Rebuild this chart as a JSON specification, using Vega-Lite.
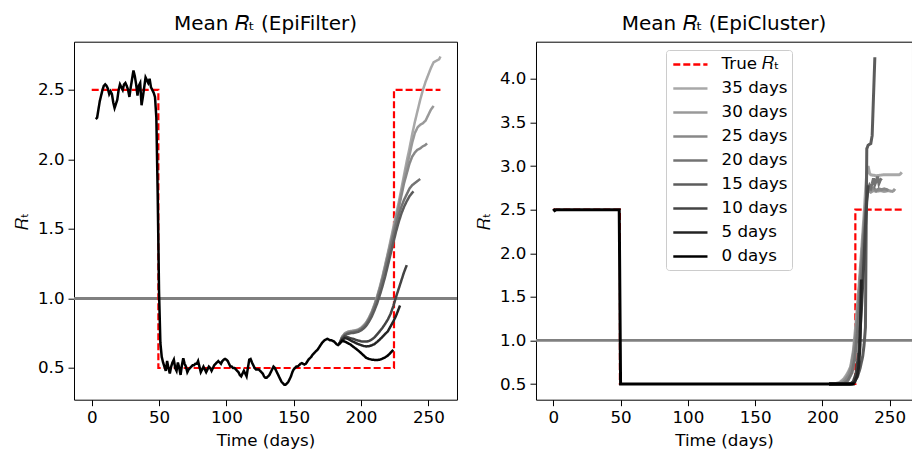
{
  "$schema": "https://vega.github.io/schema/vega-lite/v6.json",
  "padding": {"left": 13, "top": 12.7, "right": 0, "bottom": 0},
  "spacing": 16,
  "config": {
    "font": "DejaVu Sans",
    "view": {"stroke": "#000000", "strokeWidth": 1},
    "axis": {"domain": false, "grid": false, "tickColor": "#000000", "tickSize": 6, "tickWidth": 1, "labelColor": "#000000", "labelFontSize": 16.7, "labelFont": "DejaVu Sans", "titleFont": "DejaVu Sans", "titleFontSize": 16.7, "titleFontWeight": "normal", "titleColor": "#000000", "labelPadding": 4, "titlePadding": 6},
    "title": {"fontSize": 20, "fontWeight": "normal", "font": "DejaVu Sans", "color": "#000000", "offset": 8}
  },
  "resolve": {"scale": {"x": "independent", "y": "independent", "color": "independent", "strokeDash": "independent"}},
  "datasets": {
    "one": [{"v": 1}],
    "truth": [
      {"t": 0, "r": 2.5, "s": "True 𝑅ₜ"},
      {"t": 49.5, "r": 0.5, "s": "True 𝑅ₜ"},
      {"t": 224.5, "r": 2.5, "s": "True 𝑅ₜ"},
      {"t": 259, "r": 2.5, "s": "True 𝑅ₜ"}
    ],
    "ef": [
      {"t":184,"r":0.675,"s":"35 days"},{"t":186,"r":0.725,"s":"35 days"},{"t":188,"r":0.75,"s":"35 days"},{"t":190,"r":0.76,"s":"35 days"},{"t":192,"r":0.765,"s":"35 days"},{"t":194,"r":0.768,"s":"35 days"},{"t":196,"r":0.772,"s":"35 days"},{"t":198,"r":0.778,"s":"35 days"},{"t":200,"r":0.79,"s":"35 days"},{"t":202,"r":0.807,"s":"35 days"},{"t":204,"r":0.83,"s":"35 days"},{"t":206,"r":0.865,"s":"35 days"},{"t":208,"r":0.905,"s":"35 days"},{"t":210,"r":0.957,"s":"35 days"},{"t":212,"r":1.017,"s":"35 days"},{"t":214,"r":1.085,"s":"35 days"},{"t":216,"r":1.16,"s":"35 days"},{"t":218,"r":1.245,"s":"35 days"},{"t":220,"r":1.33,"s":"35 days"},{"t":222,"r":1.42,"s":"35 days"},{"t":224,"r":1.51,"s":"35 days"},{"t":226,"r":1.6,"s":"35 days"},{"t":228,"r":1.69,"s":"35 days"},{"t":230,"r":1.79,"s":"35 days"},{"t":232,"r":1.89,"s":"35 days"},{"t":234,"r":1.99,"s":"35 days"},{"t":236,"r":2.08,"s":"35 days"},{"t":238,"r":2.18,"s":"35 days"},{"t":240,"r":2.27,"s":"35 days"},{"t":242,"r":2.35,"s":"35 days"},{"t":244,"r":2.43,"s":"35 days"},{"t":246,"r":2.5,"s":"35 days"},{"t":248,"r":2.56,"s":"35 days"},{"t":250,"r":2.61,"s":"35 days"},{"t":252,"r":2.66,"s":"35 days"},{"t":254,"r":2.7,"s":"35 days"},{"t":256,"r":2.71,"s":"35 days"},{"t":258,"r":2.72,"s":"35 days"},{"t":259,"r":2.74,"s":"35 days"},
      {"t":184,"r":0.675,"s":"30 days"},{"t":186,"r":0.725,"s":"30 days"},{"t":188,"r":0.748,"s":"30 days"},{"t":190,"r":0.758,"s":"30 days"},{"t":192,"r":0.763,"s":"30 days"},{"t":194,"r":0.766,"s":"30 days"},{"t":196,"r":0.77,"s":"30 days"},{"t":198,"r":0.776,"s":"30 days"},{"t":200,"r":0.786,"s":"30 days"},{"t":202,"r":0.803,"s":"30 days"},{"t":204,"r":0.826,"s":"30 days"},{"t":206,"r":0.86,"s":"30 days"},{"t":208,"r":0.9,"s":"30 days"},{"t":210,"r":0.952,"s":"30 days"},{"t":212,"r":1.01,"s":"30 days"},{"t":214,"r":1.077,"s":"30 days"},{"t":216,"r":1.153,"s":"30 days"},{"t":218,"r":1.235,"s":"30 days"},{"t":220,"r":1.32,"s":"30 days"},{"t":222,"r":1.405,"s":"30 days"},{"t":224,"r":1.49,"s":"30 days"},{"t":226,"r":1.58,"s":"30 days"},{"t":228,"r":1.67,"s":"30 days"},{"t":230,"r":1.76,"s":"30 days"},{"t":232,"r":1.86,"s":"30 days"},{"t":234,"r":1.95,"s":"30 days"},{"t":236,"r":2.03,"s":"30 days"},{"t":238,"r":2.12,"s":"30 days"},{"t":240,"r":2.19,"s":"30 days"},{"t":242,"r":2.23,"s":"30 days"},{"t":244,"r":2.25,"s":"30 days"},{"t":246,"r":2.26,"s":"30 days"},{"t":248,"r":2.28,"s":"30 days"},{"t":250,"r":2.32,"s":"30 days"},{"t":252,"r":2.36,"s":"30 days"},{"t":254,"r":2.385,"s":"30 days"},
      {"t":184,"r":0.675,"s":"25 days"},{"t":186,"r":0.72,"s":"25 days"},{"t":188,"r":0.745,"s":"25 days"},{"t":190,"r":0.755,"s":"25 days"},{"t":192,"r":0.76,"s":"25 days"},{"t":194,"r":0.763,"s":"25 days"},{"t":196,"r":0.767,"s":"25 days"},{"t":198,"r":0.773,"s":"25 days"},{"t":200,"r":0.783,"s":"25 days"},{"t":202,"r":0.8,"s":"25 days"},{"t":204,"r":0.823,"s":"25 days"},{"t":206,"r":0.856,"s":"25 days"},{"t":208,"r":0.897,"s":"25 days"},{"t":210,"r":0.948,"s":"25 days"},{"t":212,"r":1.005,"s":"25 days"},{"t":214,"r":1.07,"s":"25 days"},{"t":216,"r":1.145,"s":"25 days"},{"t":218,"r":1.225,"s":"25 days"},{"t":220,"r":1.31,"s":"25 days"},{"t":222,"r":1.39,"s":"25 days"},{"t":224,"r":1.475,"s":"25 days"},{"t":226,"r":1.56,"s":"25 days"},{"t":228,"r":1.65,"s":"25 days"},{"t":230,"r":1.74,"s":"25 days"},{"t":232,"r":1.83,"s":"25 days"},{"t":234,"r":1.9,"s":"25 days"},{"t":236,"r":1.97,"s":"25 days"},{"t":238,"r":2.02,"s":"25 days"},{"t":240,"r":2.05,"s":"25 days"},{"t":242,"r":2.07,"s":"25 days"},{"t":244,"r":2.08,"s":"25 days"},{"t":246,"r":2.095,"s":"25 days"},{"t":248,"r":2.105,"s":"25 days"},{"t":249,"r":2.115,"s":"25 days"},
      {"t":184,"r":0.675,"s":"20 days"},{"t":186,"r":0.72,"s":"20 days"},{"t":188,"r":0.74,"s":"20 days"},{"t":190,"r":0.75,"s":"20 days"},{"t":192,"r":0.755,"s":"20 days"},{"t":194,"r":0.758,"s":"20 days"},{"t":196,"r":0.762,"s":"20 days"},{"t":198,"r":0.768,"s":"20 days"},{"t":200,"r":0.778,"s":"20 days"},{"t":202,"r":0.795,"s":"20 days"},{"t":204,"r":0.818,"s":"20 days"},{"t":206,"r":0.85,"s":"20 days"},{"t":208,"r":0.89,"s":"20 days"},{"t":210,"r":0.94,"s":"20 days"},{"t":212,"r":0.995,"s":"20 days"},{"t":214,"r":1.06,"s":"20 days"},{"t":216,"r":1.13,"s":"20 days"},{"t":218,"r":1.21,"s":"20 days"},{"t":220,"r":1.29,"s":"20 days"},{"t":222,"r":1.37,"s":"20 days"},{"t":224,"r":1.45,"s":"20 days"},{"t":226,"r":1.53,"s":"20 days"},{"t":228,"r":1.6,"s":"20 days"},{"t":230,"r":1.66,"s":"20 days"},{"t":232,"r":1.71,"s":"20 days"},{"t":234,"r":1.75,"s":"20 days"},{"t":236,"r":1.79,"s":"20 days"},{"t":238,"r":1.815,"s":"20 days"},{"t":240,"r":1.83,"s":"20 days"},{"t":242,"r":1.845,"s":"20 days"},{"t":244,"r":1.86,"s":"20 days"},
      {"t":184,"r":0.675,"s":"15 days"},{"t":186,"r":0.715,"s":"15 days"},{"t":188,"r":0.735,"s":"15 days"},{"t":190,"r":0.745,"s":"15 days"},{"t":192,"r":0.75,"s":"15 days"},{"t":194,"r":0.752,"s":"15 days"},{"t":196,"r":0.755,"s":"15 days"},{"t":198,"r":0.76,"s":"15 days"},{"t":200,"r":0.77,"s":"15 days"},{"t":202,"r":0.785,"s":"15 days"},{"t":204,"r":0.805,"s":"15 days"},{"t":206,"r":0.835,"s":"15 days"},{"t":208,"r":0.87,"s":"15 days"},{"t":210,"r":0.915,"s":"15 days"},{"t":212,"r":0.965,"s":"15 days"},{"t":214,"r":1.025,"s":"15 days"},{"t":216,"r":1.09,"s":"15 days"},{"t":218,"r":1.16,"s":"15 days"},{"t":220,"r":1.24,"s":"15 days"},{"t":222,"r":1.32,"s":"15 days"},{"t":224,"r":1.4,"s":"15 days"},{"t":226,"r":1.48,"s":"15 days"},{"t":228,"r":1.55,"s":"15 days"},{"t":230,"r":1.61,"s":"15 days"},{"t":232,"r":1.66,"s":"15 days"},{"t":234,"r":1.7,"s":"15 days"},{"t":236,"r":1.735,"s":"15 days"},{"t":238,"r":1.76,"s":"15 days"},{"t":239,"r":1.77,"s":"15 days"},
      {"t":184,"r":0.675,"s":"10 days"},{"t":186,"r":0.71,"s":"10 days"},{"t":188,"r":0.727,"s":"10 days"},{"t":190,"r":0.722,"s":"10 days"},{"t":192,"r":0.715,"s":"10 days"},{"t":194,"r":0.71,"s":"10 days"},{"t":196,"r":0.703,"s":"10 days"},{"t":198,"r":0.697,"s":"10 days"},{"t":200,"r":0.692,"s":"10 days"},{"t":202,"r":0.69,"s":"10 days"},{"t":204,"r":0.69,"s":"10 days"},{"t":206,"r":0.695,"s":"10 days"},{"t":208,"r":0.705,"s":"10 days"},{"t":210,"r":0.72,"s":"10 days"},{"t":212,"r":0.742,"s":"10 days"},{"t":214,"r":0.765,"s":"10 days"},{"t":216,"r":0.79,"s":"10 days"},{"t":218,"r":0.818,"s":"10 days"},{"t":220,"r":0.85,"s":"10 days"},{"t":222,"r":0.89,"s":"10 days"},{"t":224,"r":0.945,"s":"10 days"},{"t":226,"r":1.01,"s":"10 days"},{"t":228,"r":1.07,"s":"10 days"},{"t":230,"r":1.13,"s":"10 days"},{"t":232,"r":1.19,"s":"10 days"},{"t":234,"r":1.24,"s":"10 days"},
      {"t":184,"r":0.675,"s":"5 days"},{"t":186,"r":0.7,"s":"5 days"},{"t":188,"r":0.715,"s":"5 days"},{"t":190,"r":0.71,"s":"5 days"},{"t":192,"r":0.7,"s":"5 days"},{"t":194,"r":0.69,"s":"5 days"},{"t":196,"r":0.68,"s":"5 days"},{"t":198,"r":0.672,"s":"5 days"},{"t":200,"r":0.665,"s":"5 days"},{"t":202,"r":0.658,"s":"5 days"},{"t":204,"r":0.655,"s":"5 days"},{"t":206,"r":0.657,"s":"5 days"},{"t":208,"r":0.663,"s":"5 days"},{"t":210,"r":0.672,"s":"5 days"},{"t":212,"r":0.688,"s":"5 days"},{"t":214,"r":0.705,"s":"5 days"},{"t":216,"r":0.725,"s":"5 days"},{"t":218,"r":0.745,"s":"5 days"},{"t":220,"r":0.765,"s":"5 days"},{"t":222,"r":0.8,"s":"5 days"},{"t":224,"r":0.835,"s":"5 days"},{"t":226,"r":0.875,"s":"5 days"},{"t":228,"r":0.925,"s":"5 days"},{"t":229,"r":0.95,"s":"5 days"},
      {"t":3,"r":2.29,"s":"0 days"},{"t":4,"r":2.3,"s":"0 days"},{"t":5,"r":2.36,"s":"0 days"},{"t":6,"r":2.42,"s":"0 days"},{"t":7,"r":2.46,"s":"0 days"},{"t":8,"r":2.5,"s":"0 days"},{"t":9,"r":2.53,"s":"0 days"},{"t":10,"r":2.54,"s":"0 days"},{"t":11,"r":2.53,"s":"0 days"},{"t":12,"r":2.51,"s":"0 days"},{"t":13,"r":2.47,"s":"0 days"},{"t":14,"r":2.49,"s":"0 days"},{"t":15,"r":2.47,"s":"0 days"},{"t":16,"r":2.41,"s":"0 days"},{"t":17,"r":2.37,"s":"0 days"},{"t":18,"r":2.4,"s":"0 days"},{"t":19,"r":2.43,"s":"0 days"},{"t":20,"r":2.5,"s":"0 days"},{"t":21,"r":2.54,"s":"0 days"},{"t":22,"r":2.52,"s":"0 days"},{"t":23,"r":2.5,"s":"0 days"},{"t":24,"r":2.54,"s":"0 days"},{"t":25,"r":2.55,"s":"0 days"},{"t":26,"r":2.53,"s":"0 days"},{"t":27,"r":2.5,"s":"0 days"},{"t":28,"r":2.45,"s":"0 days"},{"t":29,"r":2.52,"s":"0 days"},{"t":30,"r":2.58,"s":"0 days"},{"t":31,"r":2.64,"s":"0 days"},{"t":32,"r":2.6,"s":"0 days"},{"t":33,"r":2.54,"s":"0 days"},{"t":34,"r":2.46,"s":"0 days"},{"t":35,"r":2.53,"s":"0 days"},{"t":36,"r":2.55,"s":"0 days"},{"t":37,"r":2.39,"s":"0 days"},{"t":38,"r":2.45,"s":"0 days"},{"t":39,"r":2.52,"s":"0 days"},{"t":40,"r":2.59,"s":"0 days"},{"t":41,"r":2.57,"s":"0 days"},{"t":42,"r":2.55,"s":"0 days"},{"t":43,"r":2.58,"s":"0 days"},{"t":44,"r":2.52,"s":"0 days"},{"t":45,"r":2.5,"s":"0 days"},{"t":46,"r":2.48,"s":"0 days"},{"t":47,"r":2.45,"s":"0 days"},{"t":48,"r":2.3,"s":"0 days"},{"t":49,"r":1.75,"s":"0 days"},{"t":50,"r":1.05,"s":"0 days"},{"t":51,"r":0.68,"s":"0 days"},{"t":52,"r":0.58,"s":"0 days"},{"t":53,"r":0.54,"s":"0 days"},{"t":54,"r":0.51,"s":"0 days"},{"t":55,"r":0.48,"s":"0 days"},{"t":56,"r":0.55,"s":"0 days"},{"t":57,"r":0.5,"s":"0 days"},{"t":58,"r":0.46,"s":"0 days"},{"t":59,"r":0.51,"s":"0 days"},{"t":60,"r":0.54,"s":"0 days"},{"t":61,"r":0.56,"s":"0 days"},{"t":62,"r":0.5,"s":"0 days"},{"t":63,"r":0.48,"s":"0 days"},{"t":64,"r":0.54,"s":"0 days"},{"t":65,"r":0.5,"s":"0 days"},{"t":66,"r":0.45,"s":"0 days"},{"t":67,"r":0.52,"s":"0 days"},{"t":68,"r":0.57,"s":"0 days"},{"t":69,"r":0.53,"s":"0 days"},{"t":70,"r":0.51,"s":"0 days"},{"t":71,"r":0.47,"s":"0 days"},{"t":72,"r":0.49,"s":"0 days"},{"t":73,"r":0.5,"s":"0 days"},{"t":74,"r":0.51,"s":"0 days"},{"t":75,"r":0.52,"s":"0 days"},{"t":76,"r":0.52,"s":"0 days"},{"t":77,"r":0.53,"s":"0 days"},{"t":78,"r":0.53,"s":"0 days"},{"t":79,"r":0.55,"s":"0 days"},{"t":80,"r":0.51,"s":"0 days"},{"t":81,"r":0.47,"s":"0 days"},{"t":82,"r":0.49,"s":"0 days"},{"t":83,"r":0.51,"s":"0 days"},{"t":84,"r":0.49,"s":"0 days"},{"t":85,"r":0.47,"s":"0 days"},{"t":86,"r":0.49,"s":"0 days"},{"t":87,"r":0.51,"s":"0 days"},{"t":88,"r":0.5,"s":"0 days"},{"t":89,"r":0.48,"s":"0 days"},{"t":90,"r":0.5,"s":"0 days"},{"t":91,"r":0.52,"s":"0 days"},{"t":92,"r":0.53,"s":"0 days"},{"t":93,"r":0.54,"s":"0 days"},{"t":94,"r":0.55,"s":"0 days"},{"t":95,"r":0.54,"s":"0 days"},{"t":96,"r":0.53,"s":"0 days"},{"t":97,"r":0.55,"s":"0 days"},{"t":98,"r":0.56,"s":"0 days"},{"t":99,"r":0.565,"s":"0 days"},{"t":100,"r":0.56,"s":"0 days"},{"t":101,"r":0.55,"s":"0 days"},{"t":102,"r":0.53,"s":"0 days"},{"t":103,"r":0.51,"s":"0 days"},{"t":104,"r":0.51,"s":"0 days"},{"t":105,"r":0.5,"s":"0 days"},{"t":106,"r":0.5,"s":"0 days"},{"t":107,"r":0.49,"s":"0 days"},{"t":108,"r":0.48,"s":"0 days"},{"t":109,"r":0.47,"s":"0 days"},{"t":110,"r":0.45,"s":"0 days"},{"t":111,"r":0.44,"s":"0 days"},{"t":112,"r":0.46,"s":"0 days"},{"t":113,"r":0.48,"s":"0 days"},{"t":114,"r":0.46,"s":"0 days"},{"t":115,"r":0.44,"s":"0 days"},{"t":116,"r":0.5,"s":"0 days"},{"t":117,"r":0.56,"s":"0 days"},{"t":118,"r":0.565,"s":"0 days"},{"t":119,"r":0.54,"s":"0 days"},{"t":120,"r":0.52,"s":"0 days"},{"t":121,"r":0.5,"s":"0 days"},{"t":122,"r":0.49,"s":"0 days"},{"t":123,"r":0.49,"s":"0 days"},{"t":124,"r":0.49,"s":"0 days"},{"t":125,"r":0.48,"s":"0 days"},{"t":126,"r":0.47,"s":"0 days"},{"t":127,"r":0.46,"s":"0 days"},{"t":128,"r":0.44,"s":"0 days"},{"t":129,"r":0.43,"s":"0 days"},{"t":130,"r":0.43,"s":"0 days"},{"t":131,"r":0.44,"s":"0 days"},{"t":132,"r":0.45,"s":"0 days"},{"t":133,"r":0.47,"s":"0 days"},{"t":134,"r":0.49,"s":"0 days"},{"t":135,"r":0.51,"s":"0 days"},{"t":136,"r":0.5,"s":"0 days"},{"t":137,"r":0.48,"s":"0 days"},{"t":138,"r":0.46,"s":"0 days"},{"t":139,"r":0.44,"s":"0 days"},{"t":140,"r":0.42,"s":"0 days"},{"t":141,"r":0.4,"s":"0 days"},{"t":142,"r":0.39,"s":"0 days"},{"t":143,"r":0.38,"s":"0 days"},{"t":144,"r":0.38,"s":"0 days"},{"t":145,"r":0.39,"s":"0 days"},{"t":146,"r":0.4,"s":"0 days"},{"t":147,"r":0.42,"s":"0 days"},{"t":148,"r":0.44,"s":"0 days"},{"t":149,"r":0.47,"s":"0 days"},{"t":150,"r":0.49,"s":"0 days"},{"t":151,"r":0.5,"s":"0 days"},{"t":152,"r":0.51,"s":"0 days"},{"t":153,"r":0.51,"s":"0 days"},{"t":154,"r":0.52,"s":"0 days"},{"t":155,"r":0.53,"s":"0 days"},{"t":156,"r":0.535,"s":"0 days"},{"t":157,"r":0.53,"s":"0 days"},{"t":158,"r":0.525,"s":"0 days"},{"t":159,"r":0.53,"s":"0 days"},{"t":160,"r":0.545,"s":"0 days"},{"t":161,"r":0.56,"s":"0 days"},{"t":162,"r":0.57,"s":"0 days"},{"t":163,"r":0.58,"s":"0 days"},{"t":164,"r":0.595,"s":"0 days"},{"t":165,"r":0.605,"s":"0 days"},{"t":166,"r":0.615,"s":"0 days"},{"t":167,"r":0.625,"s":"0 days"},{"t":168,"r":0.635,"s":"0 days"},{"t":169,"r":0.65,"s":"0 days"},{"t":170,"r":0.665,"s":"0 days"},{"t":171,"r":0.68,"s":"0 days"},{"t":172,"r":0.69,"s":"0 days"},{"t":173,"r":0.7,"s":"0 days"},{"t":174,"r":0.705,"s":"0 days"},{"t":175,"r":0.71,"s":"0 days"},{"t":176,"r":0.705,"s":"0 days"},{"t":177,"r":0.7,"s":"0 days"},{"t":178,"r":0.7,"s":"0 days"},{"t":179,"r":0.695,"s":"0 days"},{"t":180,"r":0.69,"s":"0 days"},{"t":181,"r":0.68,"s":"0 days"},{"t":182,"r":0.67,"s":"0 days"},{"t":183,"r":0.665,"s":"0 days"},{"t":184,"r":0.675,"s":"0 days"},{"t":186,"r":0.695,"s":"0 days"},{"t":188,"r":0.69,"s":"0 days"},{"t":190,"r":0.68,"s":"0 days"},{"t":192,"r":0.67,"s":"0 days"},{"t":194,"r":0.655,"s":"0 days"},{"t":196,"r":0.64,"s":"0 days"},{"t":198,"r":0.625,"s":"0 days"},{"t":200,"r":0.608,"s":"0 days"},{"t":202,"r":0.59,"s":"0 days"},{"t":204,"r":0.572,"s":"0 days"},{"t":206,"r":0.565,"s":"0 days"},{"t":208,"r":0.56,"s":"0 days"},{"t":210,"r":0.558,"s":"0 days"},{"t":212,"r":0.557,"s":"0 days"},{"t":214,"r":0.56,"s":"0 days"},{"t":216,"r":0.567,"s":"0 days"},{"t":218,"r":0.577,"s":"0 days"},{"t":220,"r":0.59,"s":"0 days"},{"t":222,"r":0.61,"s":"0 days"},{"t":224,"r":0.63,"s":"0 days"}
    ],
    "ec": [
      {"t":205,"r":0.5,"s":"35 days"},{"t":210,"r":0.505,"s":"35 days"},{"t":213,"r":0.52,"s":"35 days"},{"t":216,"r":0.56,"s":"35 days"},{"t":219,"r":0.63,"s":"35 days"},{"t":221,"r":0.7,"s":"35 days"},{"t":223,"r":0.88,"s":"35 days"},{"t":225,"r":1.2,"s":"35 days"},{"t":227,"r":1.58,"s":"35 days"},{"t":229,"r":2.0,"s":"35 days"},{"t":231,"r":2.45,"s":"35 days"},{"t":232,"r":2.7,"s":"35 days"},{"t":233,"r":2.92,"s":"35 days"},{"t":234,"r":3.0,"s":"35 days"},{"t":235,"r":2.92,"s":"35 days"},{"t":236,"r":2.9,"s":"35 days"},{"t":240,"r":2.89,"s":"35 days"},{"t":245,"r":2.9,"s":"35 days"},{"t":250,"r":2.9,"s":"35 days"},{"t":255,"r":2.9,"s":"35 days"},{"t":257,"r":2.9,"s":"35 days"},{"t":258,"r":2.91,"s":"35 days"},{"t":259,"r":2.93,"s":"35 days"},
      {"t":205,"r":0.5,"s":"30 days"},{"t":212,"r":0.505,"s":"30 days"},{"t":215,"r":0.53,"s":"30 days"},{"t":218,"r":0.58,"s":"30 days"},{"t":221,"r":0.68,"s":"30 days"},{"t":223,"r":0.84,"s":"30 days"},{"t":225,"r":1.1,"s":"30 days"},{"t":227,"r":1.48,"s":"30 days"},{"t":229,"r":1.9,"s":"30 days"},{"t":231,"r":2.33,"s":"30 days"},{"t":232,"r":2.55,"s":"30 days"},{"t":233,"r":2.68,"s":"30 days"},{"t":234,"r":2.72,"s":"30 days"},{"t":236,"r":2.7,"s":"30 days"},{"t":238,"r":2.72,"s":"30 days"},{"t":240,"r":2.71,"s":"30 days"},{"t":243,"r":2.72,"s":"30 days"},{"t":246,"r":2.71,"s":"30 days"},{"t":249,"r":2.72,"s":"30 days"},{"t":252,"r":2.71,"s":"30 days"},{"t":253,"r":2.72,"s":"30 days"},{"t":254,"r":2.74,"s":"30 days"},
      {"t":205,"r":0.5,"s":"25 days"},{"t":214,"r":0.505,"s":"25 days"},{"t":217,"r":0.54,"s":"25 days"},{"t":220,"r":0.61,"s":"25 days"},{"t":222,"r":0.72,"s":"25 days"},{"t":224,"r":0.93,"s":"25 days"},{"t":226,"r":1.28,"s":"25 days"},{"t":228,"r":1.7,"s":"25 days"},{"t":230,"r":2.12,"s":"25 days"},{"t":232,"r":2.52,"s":"25 days"},{"t":233,"r":2.68,"s":"25 days"},{"t":234,"r":2.74,"s":"25 days"},{"t":236,"r":2.73,"s":"25 days"},{"t":238,"r":2.75,"s":"25 days"},{"t":240,"r":2.72,"s":"25 days"},{"t":242,"r":2.74,"s":"25 days"},{"t":244,"r":2.73,"s":"25 days"},{"t":246,"r":2.74,"s":"25 days"},{"t":248,"r":2.73,"s":"25 days"},{"t":249,"r":2.72,"s":"25 days"},
      {"t":205,"r":0.5,"s":"20 days"},{"t":216,"r":0.505,"s":"20 days"},{"t":219,"r":0.54,"s":"20 days"},{"t":222,"r":0.63,"s":"20 days"},{"t":224,"r":0.78,"s":"20 days"},{"t":226,"r":1.08,"s":"20 days"},{"t":228,"r":1.52,"s":"20 days"},{"t":230,"r":1.98,"s":"20 days"},{"t":232,"r":2.42,"s":"20 days"},{"t":233,"r":2.63,"s":"20 days"},{"t":234,"r":2.74,"s":"20 days"},{"t":235,"r":2.78,"s":"20 days"},{"t":236,"r":2.75,"s":"20 days"},{"t":237,"r":2.8,"s":"20 days"},{"t":238,"r":2.86,"s":"20 days"},{"t":239,"r":2.79,"s":"20 days"},{"t":240,"r":2.83,"s":"20 days"},{"t":241,"r":2.88,"s":"20 days"},{"t":242,"r":2.8,"s":"20 days"},{"t":243,"r":2.84,"s":"20 days"},{"t":244,"r":2.86,"s":"20 days"},
      {"t":205,"r":0.5,"s":"15 days"},{"t":220,"r":0.5,"s":"15 days"},{"t":223,"r":0.52,"s":"15 days"},{"t":226,"r":0.58,"s":"15 days"},{"t":228,"r":0.68,"s":"15 days"},{"t":230,"r":0.82,"s":"15 days"},{"t":231,"r":0.95,"s":"15 days"},{"t":232,"r":1.15,"s":"15 days"},{"t":233,"r":3.2,"s":"15 days"},{"t":234,"r":3.24,"s":"15 days"},{"t":235,"r":3.25,"s":"15 days"},{"t":236,"r":3.26,"s":"15 days"},{"t":237,"r":3.35,"s":"15 days"},{"t":238,"r":3.8,"s":"15 days"},{"t":239,"r":4.25,"s":"15 days"},
      {"t":205,"r":0.5,"s":"10 days"},{"t":221,"r":0.5,"s":"10 days"},{"t":223,"r":0.53,"s":"10 days"},{"t":225,"r":0.62,"s":"10 days"},{"t":227,"r":0.85,"s":"10 days"},{"t":229,"r":1.35,"s":"10 days"},{"t":231,"r":1.95,"s":"10 days"},{"t":232,"r":2.3,"s":"10 days"},{"t":233,"r":2.6,"s":"10 days"},{"t":234,"r":2.78,"s":"10 days"},
      {"t":205,"r":0.5,"s":"5 days"},{"t":222,"r":0.5,"s":"5 days"},{"t":224,"r":0.52,"s":"5 days"},{"t":226,"r":0.6,"s":"5 days"},{"t":227,"r":0.7,"s":"5 days"},{"t":228,"r":0.95,"s":"5 days"},{"t":229,"r":1.7,"s":"5 days"},
      {"t":0,"r":2.51,"s":"0 days"},{"t":1,"r":2.49,"s":"0 days"},{"t":2,"r":2.5,"s":"0 days"},{"t":10,"r":2.5,"s":"0 days"},{"t":20,"r":2.5,"s":"0 days"},{"t":30,"r":2.5,"s":"0 days"},{"t":40,"r":2.5,"s":"0 days"},{"t":49,"r":2.5,"s":"0 days"},{"t":50,"r":0.5,"s":"0 days"},{"t":60,"r":0.5,"s":"0 days"},{"t":80,"r":0.5,"s":"0 days"},{"t":100,"r":0.5,"s":"0 days"},{"t":120,"r":0.5,"s":"0 days"},{"t":140,"r":0.5,"s":"0 days"},{"t":160,"r":0.5,"s":"0 days"},{"t":180,"r":0.5,"s":"0 days"},{"t":200,"r":0.5,"s":"0 days"},{"t":210,"r":0.5,"s":"0 days"},{"t":220,"r":0.5,"s":"0 days"},{"t":224,"r":0.5,"s":"0 days"}
    ]
  },
  "hconcat": [
    {
      "width": 383,
      "height": 358,
      "title": "Mean 𝑅ₜ (EpiFilter)",
      "layer": [
        {
          "data": {"name": "one"},
          "mark": {"type": "rule", "color": "#808080", "strokeWidth": 2.8},
          "encoding": {"y": {"field": "v", "type": "quantitative"}}
        },
        {
          "data": {"name": "truth"},
          "mark": {"type": "line", "interpolate": "step-after", "strokeWidth": 2.2},
          "encoding": {
            "x": {"field": "t", "type": "quantitative", "scale": {"domain": [-13.15, 271.3], "nice": false, "zero": false}, "axis": {"values": [0, 50, 100, 150, 200, 250], "title": "Time (days)"}},
            "y": {"field": "r", "type": "quantitative", "scale": {"domain": [0.272, 2.847], "nice": false, "zero": false}, "axis": {"values": [0.5, 1, 1.5, 2, 2.5], "format": ".1f", "title": "𝑅ₜ"}},
            "color": {"field": "s", "type": "nominal", "legend": null, "scale": {"domain": ["True 𝑅ₜ", "35 days", "30 days", "25 days", "20 days", "15 days", "10 days", "5 days", "0 days"], "range": ["#ff0000", "#a8a8a8", "#999999", "#888888", "#737373", "#5c5c5c", "#444444", "#242424", "#000000"]}},
            "strokeDash": {"field": "s", "type": "nominal", "legend": null, "scale": {"domain": ["True 𝑅ₜ", "35 days", "30 days", "25 days", "20 days", "15 days", "10 days", "5 days", "0 days"], "range": [[7, 3], [1, 0], [1, 0], [1, 0], [1, 0], [1, 0], [1, 0], [1, 0], [1, 0]]}}
          }
        },
        {
          "data": {"name": "ef"},
          "mark": {"type": "line", "strokeWidth": 2.5},
          "encoding": {
            "x": {"field": "t", "type": "quantitative"},
            "y": {"field": "r", "type": "quantitative"},
            "color": {"field": "s", "type": "nominal", "legend": null},
            "strokeDash": {"field": "s", "type": "nominal", "legend": null}
          }
        }
      ]
    },
    {
      "width": 376,
      "height": 358,
      "title": "Mean 𝑅ₜ (EpiCluster)",
      "layer": [
        {
          "data": {"name": "one"},
          "mark": {"type": "rule", "color": "#808080", "strokeWidth": 2.8},
          "encoding": {"y": {"field": "v", "type": "quantitative"}}
        },
        {
          "data": {"name": "truth"},
          "mark": {"type": "line", "interpolate": "step-after", "strokeWidth": 2.2},
          "encoding": {
            "x": {"field": "t", "type": "quantitative", "scale": {"domain": [-12.86, 266.6], "nice": false, "zero": false}, "axis": {"values": [0, 50, 100, 150, 200, 250], "title": "Time (days)"}},
            "y": {"field": "r", "type": "quantitative", "scale": {"domain": [0.32, 4.428], "nice": false, "zero": false}, "axis": {"values": [0.5, 1, 1.5, 2, 2.5, 3, 3.5, 4], "format": ".1f", "title": "𝑅ₜ"}},
            "color": {"field": "s", "type": "nominal", "scale": {"domain": ["True 𝑅ₜ", "35 days", "30 days", "25 days", "20 days", "15 days", "10 days", "5 days", "0 days"], "range": ["#ff0000", "#a8a8a8", "#999999", "#888888", "#737373", "#5c5c5c", "#444444", "#242424", "#000000"]},
              "legend": {"orient": "none", "legendX": 130, "legendY": 8.3, "title": null, "symbolType": "M-0.8,0H3.0", "symbolSize": 324, "symbolStrokeWidth": 2.5, "labelFontSize": 16.7, "labelFont": "DejaVu Sans", "labelColor": "#000000", "padding": 4, "rowPadding": 4, "labelOffset": 30.6, "fillColor": "rgba(255,255,255,0.8)", "strokeColor": "#cccccc", "cornerRadius": 3}},
            "strokeDash": {"field": "s", "type": "nominal", "scale": {"domain": ["True 𝑅ₜ", "35 days", "30 days", "25 days", "20 days", "15 days", "10 days", "5 days", "0 days"], "range": [[7, 3], [1, 0], [1, 0], [1, 0], [1, 0], [1, 0], [1, 0], [1, 0], [1, 0]]},
              "legend": {"orient": "none", "legendX": 130, "legendY": 8.3, "title": null, "symbolType": "M-0.8,0H3.0", "symbolSize": 324, "symbolStrokeWidth": 2.5, "labelFontSize": 16.7, "labelFont": "DejaVu Sans", "labelColor": "#000000", "padding": 4, "rowPadding": 4, "labelOffset": 30.6, "fillColor": "rgba(255,255,255,0.8)", "strokeColor": "#cccccc", "cornerRadius": 3}}
          }
        },
        {
          "data": {"name": "ec"},
          "mark": {"type": "line", "strokeWidth": 3},
          "encoding": {
            "x": {"field": "t", "type": "quantitative"},
            "y": {"field": "r", "type": "quantitative"},
            "color": {"field": "s", "type": "nominal"},
            "strokeDash": {"field": "s", "type": "nominal"}
          }
        }
      ]
    }
  ]
}
